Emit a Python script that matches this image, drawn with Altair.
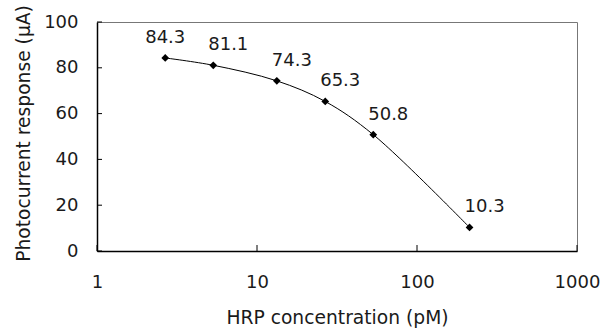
import altair as alt
import pandas as pd

# HRP concentration (pM) and photocurrent response (uA)
conc = [2.67, 5.33, 13.3, 26.7, 53.3, 213]
resp = [84.3, 81.1, 74.3, 65.3, 50.8, 10.3]
labels = ["84.3", "81.1", "74.3", "65.3", "50.8", "10.3"]

x_ticks = [1, 10, 100, 1000]
y_ticks = [0, 20, 40, 60, 80, 100]

df = pd.DataFrame({"conc": conc, "resp": resp, "label": labels})

W, H = 480, 229
FONT = "DejaVu Sans"
FS = 18
TFS = 18.7

xs = alt.Scale(type="log", domain=[1, 1000])
ys = alt.Scale(domain=[0, 100])

x_axis = alt.Axis(
    values=x_ticks, format="d", tickSize=0, grid=False,
    domainColor="black", domainWidth=1.5,
    labelPadding=22, labelFontSize=FS, labelFont=FONT, labelColor="#1a1a1a",
    labelFlush=False,
    title="HRP concentration (pM)", titleFontSize=TFS, titleFont=FONT,
    titleFontWeight="normal", titleColor="#1a1a1a",
    titleY=66, titleBaseline="middle",
)
y_axis = alt.Axis(
    values=y_ticks, tickSize=0, grid=False,
    domainColor="black", domainWidth=1.5,
    labelPadding=19, labelFontSize=FS, labelFont=FONT, labelColor="#1a1a1a",
    labelFlush=False,
    title="Photocurrent response (\u03bcA)", titleFontSize=TFS, titleFont=FONT,
    titleFontWeight="normal", titleColor="#1a1a1a",
    titleX=-74, titleY=111, titleAngle=-90, titleBaseline="middle",
    titleAlign="center",
)

line = alt.Chart(df).mark_line(
    color="black", strokeWidth=1, interpolate="catmull-rom"
).encode(
    x=alt.X("conc:Q", scale=xs, axis=x_axis),
    y=alt.Y("resp:Q", scale=ys, axis=y_axis),
)

points = alt.Chart(df).mark_point(
    shape="diamond", filled=True, color="black", size=60, opacity=1
).encode(
    x=alt.X("conc:Q", scale=xs),
    y=alt.Y("resp:Q", scale=ys),
)

text_style = dict(font=FONT, fontSize=FS, color="#1a1a1a", baseline="middle", dy=-20)

first_label = alt.Chart(df).transform_filter(
    alt.datum.conc < 3
).mark_text(dx=0, **text_style).encode(
    x=alt.X("conc:Q", scale=xs),
    y=alt.Y("resp:Q", scale=ys),
    text="label:N",
)

other_labels = alt.Chart(df).transform_filter(
    alt.datum.conc >= 3
).mark_text(dx=15, **text_style).encode(
    x=alt.X("conc:Q", scale=xs),
    y=alt.Y("resp:Q", scale=ys),
    text="label:N",
)

# inward tick marks on both axes
x_tick_marks = alt.Chart(pd.DataFrame({"t": x_ticks})).mark_rule(
    color="black", strokeWidth=1
).encode(
    x=alt.X("t:Q", scale=xs),
    y=alt.value(H),
    y2=alt.value(H - 6),
)
y_tick_marks = alt.Chart(pd.DataFrame({"t": y_ticks})).mark_rule(
    color="black", strokeWidth=1
).encode(
    y=alt.Y("t:Q", scale=ys),
    x=alt.value(0),
    x2=alt.value(5),
)

chart = alt.layer(
    line, points, first_label, other_labels, x_tick_marks, y_tick_marks
).properties(
    width=W, height=H,
    autosize=alt.AutoSizeParams(type="none"),
    padding={"left": 97, "top": 22, "right": 23, "bottom": 85},
    background="white",
).configure_view(
    stroke="#777", strokeWidth=1
)

chart.save("out.html", embed_options={"renderer": "svg", "actions": False})
